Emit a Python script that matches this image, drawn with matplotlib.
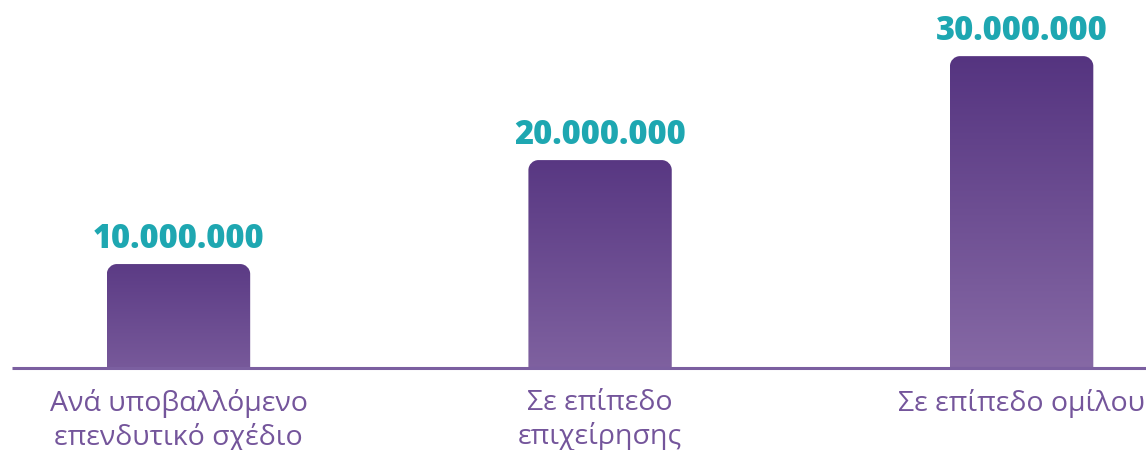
import numpy as np
from matplotlib import pyplot as plt
from matplotlib.path import Path
from matplotlib.patches import PathPatch
from matplotlib.colors import LinearSegmentedColormap, to_rgb
import matplotlib.transforms as mtransforms

#Daten
kategorien = ['Ανά υποβαλλόμενο\nεπενδυτικό σχέδιο', 'Σε επίπεδο\nεπιχείρησης', 'Σε επίπεδο ομίλου']
werte = [10000000, 20000000, 30000000]

lila_dunkel = '#553480'
lila_hell = '#8669a5'
tuerkis = '#1ea7b1'
text_lila = '#74559b'

#Rechteck mit abgerundeten oberen Ecken (Radius in Pixel)
def rundbalken(ax, x0, b, h, r_px=10):
    bbox = ax.get_window_extent()
    xl = ax.get_xlim(); yl = ax.get_ylim()
    rx = r_px * (xl[1]-xl[0]) / bbox.width
    ry = r_px * (yl[1]-yl[0]) / bbox.height
    x1 = x0 + b
    k = 0.45
    verts = [(x0, 0), (x0, h-ry), (x0, h-ry*k), (x0+rx*k, h), (x0+rx, h),
             (x1-rx, h), (x1-rx*k, h), (x1, h-ry*k), (x1, h-ry), (x1, 0), (x0, 0)]
    codes = [Path.MOVETO, Path.LINETO, Path.CURVE4, Path.CURVE4, Path.CURVE4,
             Path.LINETO, Path.CURVE4, Path.CURVE4, Path.CURVE4, Path.LINETO, Path.CLOSEPOLY]
    return Path(verts, codes)

fig = plt.figure(figsize=(11.46, 4.5), dpi=100)
ax = fig.add_axes([12/1146, 82/450, 1134/1146, 368/450])
ax.set_xlim(-0.395, 2.295)
ax.set_ylim(0, 35.4e6)
ax.axis('off')

breite = 0.34
hmax = max(werte)
c0 = np.array(to_rgb(lila_dunkel))
c1 = np.array(to_rgb(lila_hell))
fig.canvas.draw()
for i, v in enumerate(werte):
    x0 = i - breite/2
    f = v/hmax
    unten = c0 + (c1-c0)*(0.55+0.45*f)
    oben = c0 + (c1-c0)*(0.2*(1-f))
    cmap = LinearSegmentedColormap.from_list('g%d' % i, [unten, oben])
    grad = np.linspace(0, 1, 256).reshape(-1, 1)
    im = ax.imshow(grad, cmap=cmap, origin='lower', aspect='auto',
                   extent=(x0, x0+breite, 0, v), zorder=2)
    p = PathPatch(rundbalken(ax, x0, breite, v), transform=ax.transData,
                  facecolor='none', edgecolor='none')
    ax.add_patch(p)
    im.set_clip_path(p)
    ax.annotate(f'{v:,}'.replace(',', '.'), (i, v), xytext=(0, 11.5),
                textcoords='offset points', ha='center', va='baseline',
                color=tuerkis, fontsize=23.5, fontweight='heavy', family='Open Sans')

ax.set_xlim(-0.395, 2.295)
ax.set_ylim(0, 35.4e6)

#Achsenlinie
ax.plot([-0.395, 2.295], [0, 0], color='#7b5fa0', lw=2.2, solid_capstyle='butt',
        zorder=3, clip_on=False)

trans = mtransforms.blended_transform_factory(ax.transData, ax.transAxes)
for i, k in enumerate(kategorien):
    ax.text(i, -0.058, k, transform=trans, ha='center', va='top',
            color=text_lila, fontsize=20.5, family='Open Sans', linespacing=1.22)

fig.savefig('out.png', dpi=100)
